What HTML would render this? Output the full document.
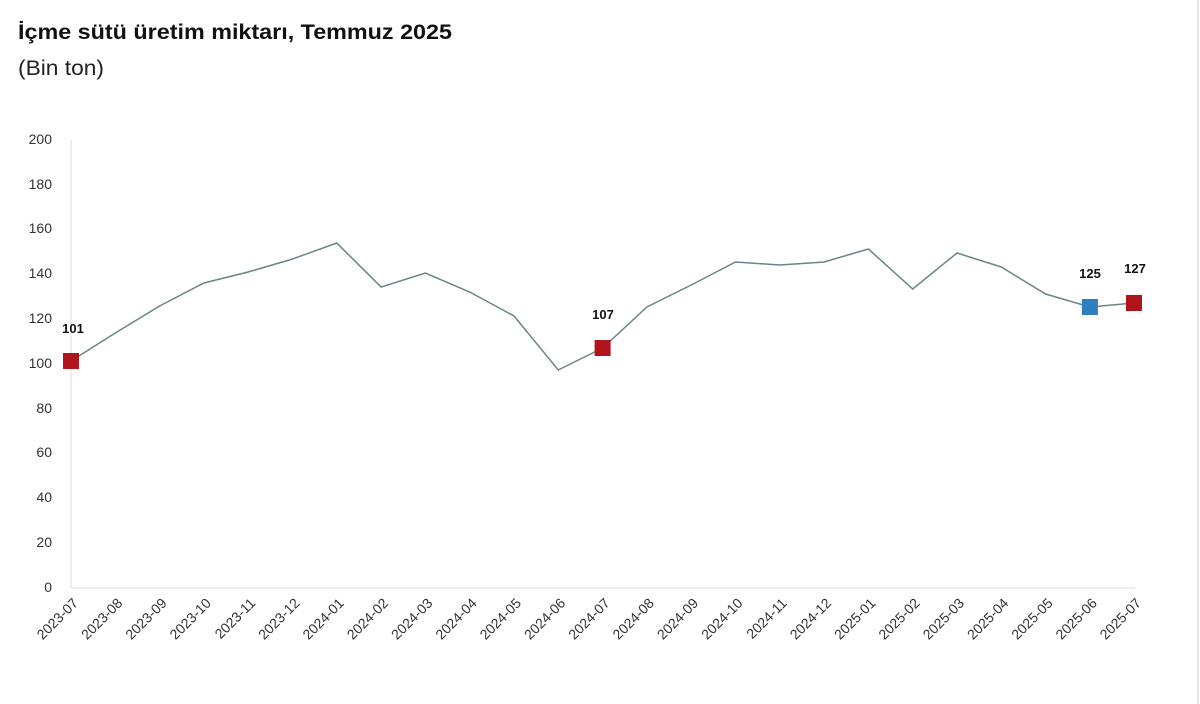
<!DOCTYPE html>
<html><head><meta charset="utf-8"><style>
body{margin:0;background:#fff;width:1200px;height:704px;overflow:hidden}
svg{display:block}
</style></head><body>
<svg width="1200" height="704" xmlns="http://www.w3.org/2000/svg" font-family="Liberation Sans, sans-serif">
<text x="18" y="39" font-size="21" font-weight="bold" fill="#111" textLength="434" lengthAdjust="spacingAndGlyphs">İçme sütü üretim miktarı, Temmuz 2025</text>
<text x="18" y="75" font-size="21" fill="#222" textLength="86" lengthAdjust="spacingAndGlyphs">(Bin ton)</text>
<line x1="1198" y1="0" x2="1198" y2="704" stroke="#ddd" stroke-width="1.5"/>
<line x1="71" y1="140" x2="71" y2="588" stroke="#ddd" stroke-width="1"/>
<line x1="71" y1="588" x2="1135" y2="588" stroke="#ddd" stroke-width="1"/>
<g font-size="14" fill="#333" text-anchor="end">
<text x="52" y="144">200</text><text x="52" y="189">180</text><text x="52" y="233">160</text>
<text x="52" y="278">140</text><text x="52" y="323">120</text><text x="52" y="368">100</text>
<text x="52" y="413">80</text><text x="52" y="457">60</text><text x="52" y="502">40</text>
<text x="52" y="547">20</text><text x="52" y="592">0</text>
</g>
<polyline fill="none" stroke="#6a8488" stroke-width="1.5" points="71,361 115.3,333 159.6,306 203.9,283 248.2,272 292.5,259 336.8,243 381.1,287 425.4,273 469.7,292 514,316 558.3,370 602.6,348 646.9,307 691.2,285 735.5,262 779.8,265 824.1,262 868.4,249 912.7,289 957,253 1001.3,267 1045.6,294 1089.9,307 1134,303"/>
<rect x="63" y="353" width="16" height="16" fill="#b0141c"/>
<rect x="594.6" y="340" width="16" height="16" fill="#b0141c"/>
<rect x="1081.9" y="299" width="16" height="16" fill="#2f7fc0"/>
<rect x="1126" y="295" width="16" height="16" fill="#b0141c"/>
<g font-size="13" font-weight="bold" fill="#111" text-anchor="middle">
<text x="73" y="333">101</text><text x="603" y="319">107</text>
<text x="1090" y="278">125</text><text x="1135" y="273">127</text>
</g>
<g font-size="14" fill="#333" text-anchor="end">
<text transform="translate(79,604) rotate(-45)">2023-07</text>
<text transform="translate(123.3,604) rotate(-45)">2023-08</text>
<text transform="translate(167.6,604) rotate(-45)">2023-09</text>
<text transform="translate(211.9,604) rotate(-45)">2023-10</text>
<text transform="translate(256.2,604) rotate(-45)">2023-11</text>
<text transform="translate(300.5,604) rotate(-45)">2023-12</text>
<text transform="translate(344.8,604) rotate(-45)">2024-01</text>
<text transform="translate(389.1,604) rotate(-45)">2024-02</text>
<text transform="translate(433.4,604) rotate(-45)">2024-03</text>
<text transform="translate(477.7,604) rotate(-45)">2024-04</text>
<text transform="translate(522,604) rotate(-45)">2024-05</text>
<text transform="translate(566.3,604) rotate(-45)">2024-06</text>
<text transform="translate(610.6,604) rotate(-45)">2024-07</text>
<text transform="translate(654.9,604) rotate(-45)">2024-08</text>
<text transform="translate(699.2,604) rotate(-45)">2024-09</text>
<text transform="translate(743.5,604) rotate(-45)">2024-10</text>
<text transform="translate(787.8,604) rotate(-45)">2024-11</text>
<text transform="translate(832.1,604) rotate(-45)">2024-12</text>
<text transform="translate(876.4,604) rotate(-45)">2025-01</text>
<text transform="translate(920.7,604) rotate(-45)">2025-02</text>
<text transform="translate(965,604) rotate(-45)">2025-03</text>
<text transform="translate(1009.3,604) rotate(-45)">2025-04</text>
<text transform="translate(1053.6,604) rotate(-45)">2025-05</text>
<text transform="translate(1097.9,604) rotate(-45)">2025-06</text>
<text transform="translate(1142,604) rotate(-45)">2025-07</text>
</g>
</svg>
</body></html>
